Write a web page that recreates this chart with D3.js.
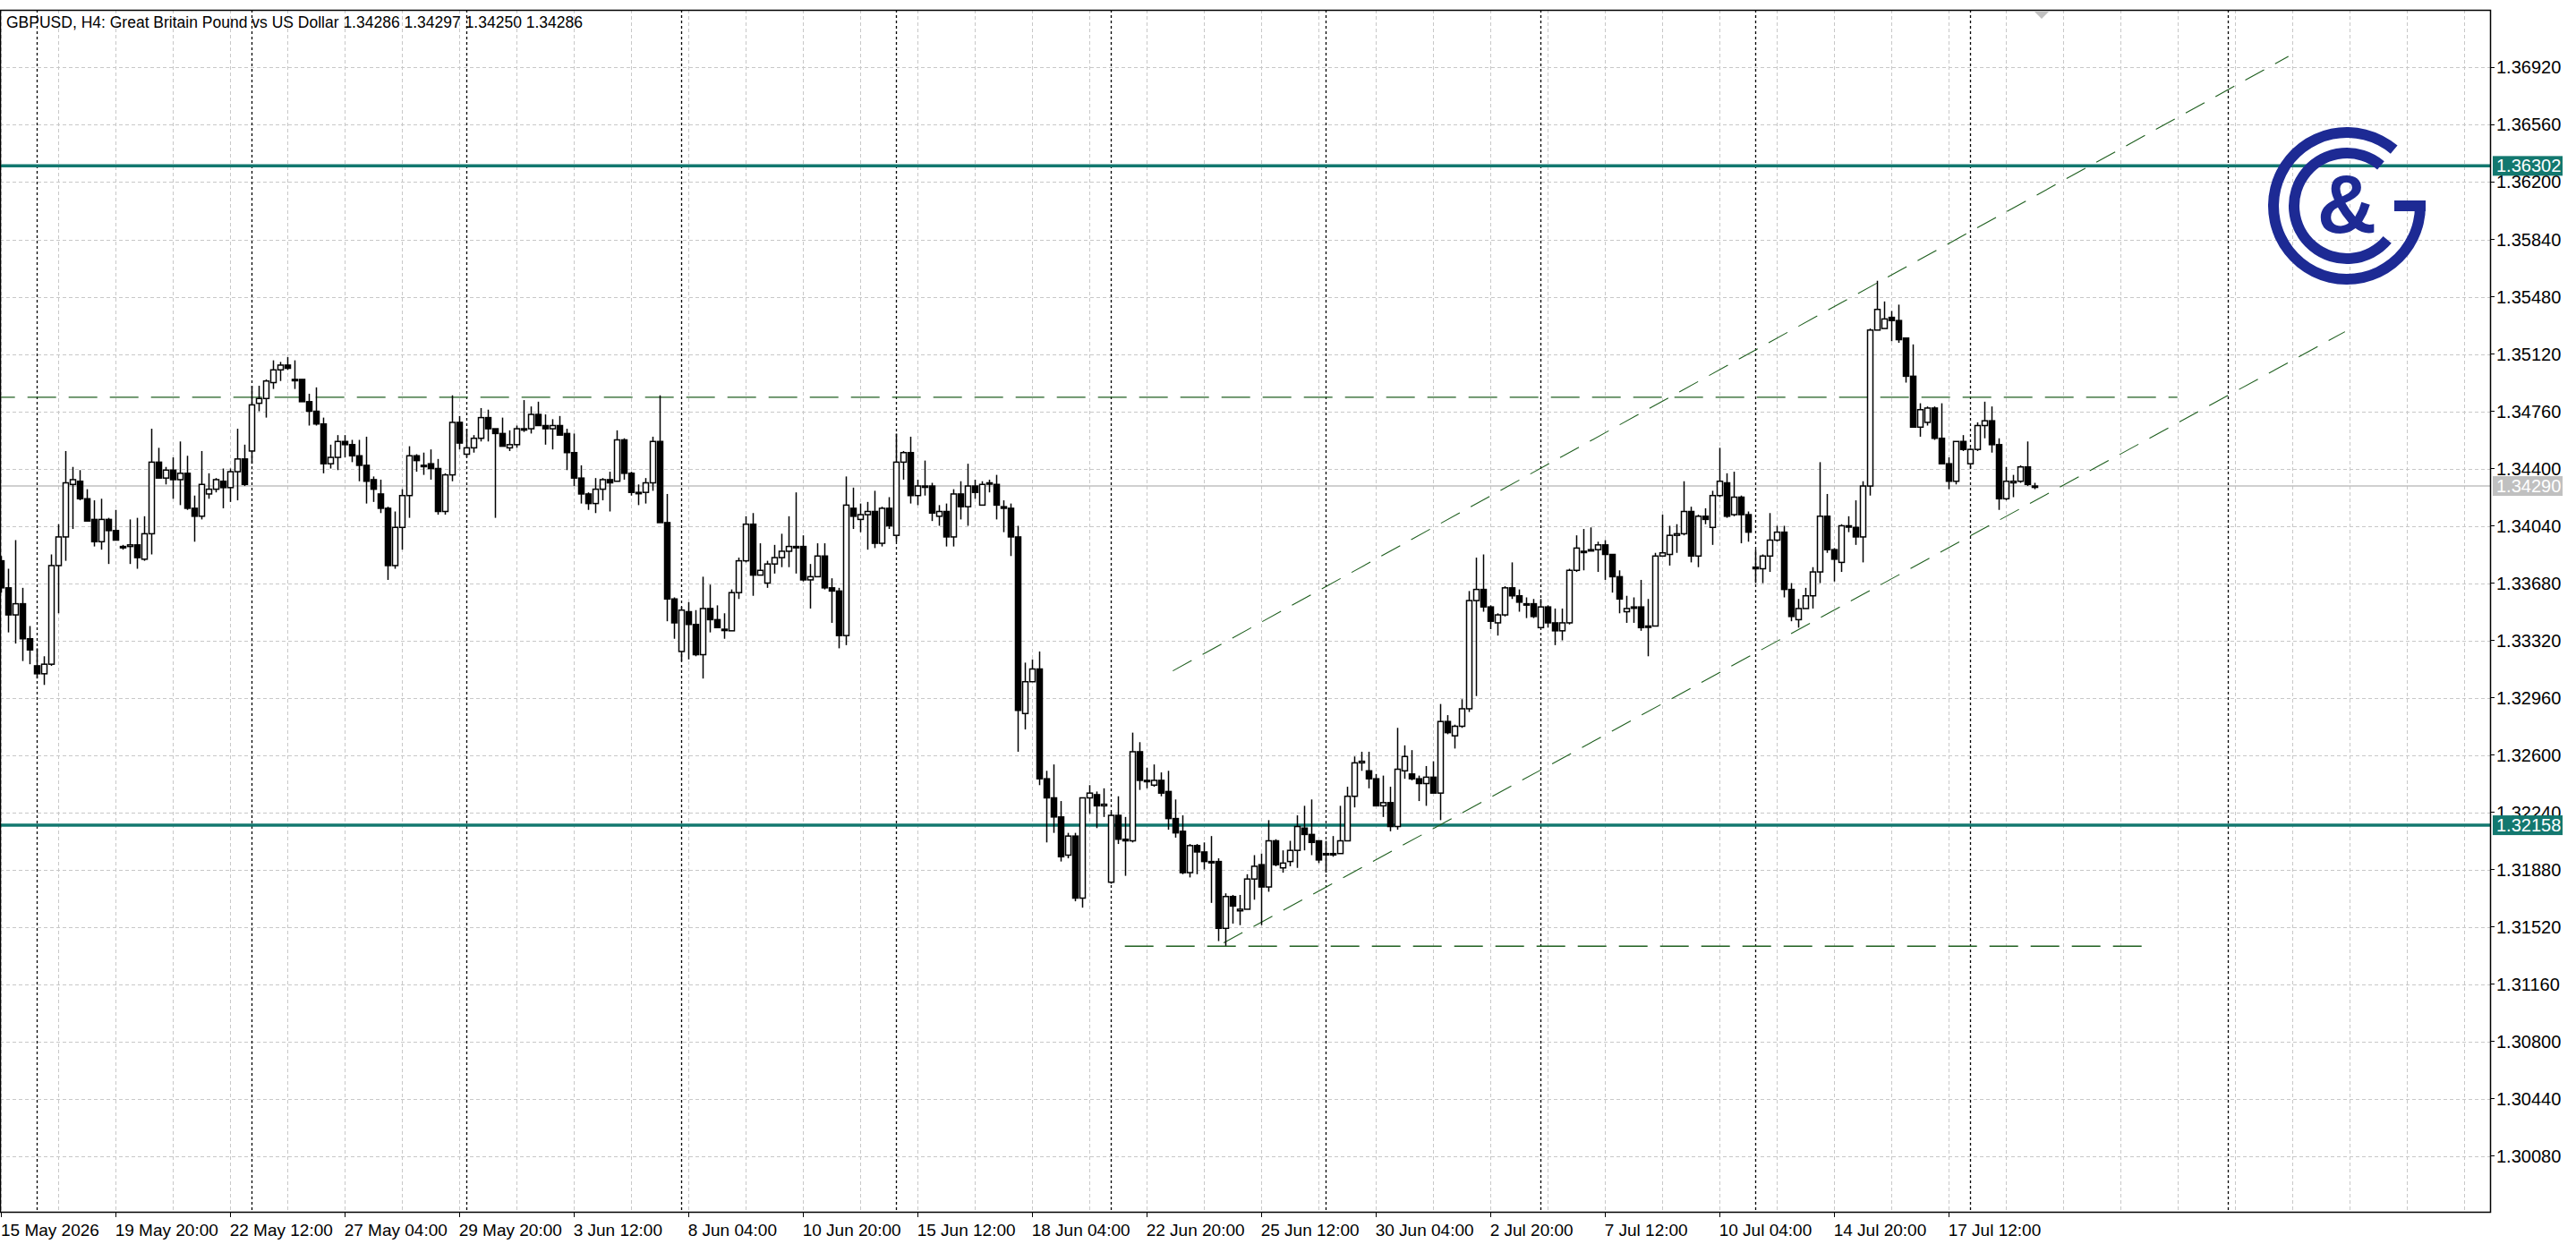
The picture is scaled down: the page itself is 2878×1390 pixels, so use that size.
<!DOCTYPE html>
<html>
<head>
<meta charset="utf-8">
<script src="https://cdn.jsdelivr.net/npm/d3@7"></script>
<style>
  body { margin: 0; background: #fff; }
  svg text { font-family: "Liberation Sans", Arial, sans-serif; }
</style>
</head>
<body>
<svg id="chart" width="2878" height="1390"></svg>
<script>
// prices are pips above 1.30000 (so 430 -> 1.34300)
var opens = [390,382,365,348,355,333,316,311,317,379,397,430,432,421,408,394,408,401,391,391,392,383,399,444,434,439,433,437,415,410,
  424,427,432,428,438,446,451,481,484,494,502,505,496,496,482,476,468,443,447,457,455,448,442,433,424,415,379,403,423,448,
  442,443,440,413,436,469,449,453,459,472,465,462,453,455,465,465,474,467,465,467,462,450,434,424,418,427,433,432,458,437,
  425,425,431,457,406,358,325,350,342,323,352,345,339,338,362,382,405,373,368,380,384,388,391,391,370,372,385,365,363,335,
  415,408,411,413,393,415,398,444,450,423,429,429,410,413,397,424,416,429,417,431,430,416,415,397,286,306,314,245,233,221,
  197,209,170,233,235,228,180,222,207,206,262,244,241,244,237,220,212,186,203,199,193,193,151,171,162,163,182,191,177,206,
  189,193,200,214,210,206,198,198,198,206,234,255,250,245,228,230,215,250,248,245,242,246,236,281,272,278,289,357,364,353,
  343,348,365,360,355,355,340,353,343,338,343,376,388,389,389,392,386,372,350,353,353,341,341,385,386,398,399,413,385,410,
  403,423,431,411,422,411,378,377,385,395,400,364,345,352,360,375,410,389,381,404,403,397,429,527,528,535,533,522,498,466,
  469,478,459,443,432,457,443,452,467,470,455,421,431,432,441,429];
var highs = [395,385,377,395,365,341,327,322,386,405,451,441,439,427,420,421,409,414,392,408,409,410,465,453,441,447,457,448,423,451,
  437,434,440,440,465,455,492,492,496,508,507,510,508,496,487,491,472,455,461,461,458,458,460,435,433,416,413,427,454,449,
  450,452,446,437,486,473,465,461,478,477,465,472,464,467,483,479,482,474,471,473,465,462,442,425,434,434,438,464,459,438,
  430,434,460,486,424,359,353,356,351,372,367,354,349,364,384,410,412,393,382,392,399,410,425,398,380,393,393,371,365,435,
  428,418,419,426,416,422,462,451,460,433,445,431,417,418,427,432,443,433,432,433,436,420,418,404,318,320,325,250,254,231,
  211,211,233,241,237,239,224,234,221,274,268,252,254,249,250,232,222,204,204,205,209,195,173,172,172,185,197,198,219,207,
  200,206,222,228,232,206,206,209,228,240,259,262,262,248,247,240,277,266,263,247,253,256,292,285,279,295,363,384,386,354,
  349,366,381,364,359,358,358,354,352,352,377,398,402,403,394,395,386,376,360,359,370,358,387,411,404,405,432,416,411,415,
  426,453,437,438,423,413,389,386,412,404,404,368,358,365,378,444,424,390,405,410,420,432,528,558,545,539,543,522,518,481,
  479,479,481,447,457,461,453,469,482,479,459,441,436,442,457,431];
var lows = [375,362,337,330,319,317,308,304,316,349,382,402,420,407,391,389,380,395,389,380,377,382,386,434,430,421,417,414,394,408,
  421,425,415,419,420,429,443,476,472,490,495,502,490,482,467,467,437,440,439,447,444,432,418,419,412,370,377,389,409,438,
  436,433,411,411,432,452,447,450,457,457,409,454,451,453,463,462,467,455,452,461,439,429,418,414,412,420,413,432,433,423,
  417,418,426,406,344,333,319,320,322,308,337,340,333,338,358,381,360,373,365,374,378,378,374,369,352,372,364,343,327,329,
  402,400,389,390,391,402,394,433,418,417,423,407,404,391,391,408,404,421,417,425,408,400,385,262,276,306,241,205,211,193,
  195,168,164,223,214,221,179,204,184,205,238,239,240,234,213,208,185,183,185,188,167,143,140,154,153,163,169,153,174,190,
  186,190,189,200,197,192,186,196,198,206,227,250,239,228,221,212,213,245,244,231,228,236,219,273,264,277,287,297,350,339,
  335,347,358,350,346,346,340,340,329,332,342,375,376,388,375,370,362,349,343,343,338,322,341,385,379,387,398,381,378,405,
  392,422,409,410,393,394,368,368,375,394,359,344,340,352,352,368,387,369,375,400,392,381,423,527,528,520,519,494,466,460,
  467,458,443,427,430,451,440,451,459,450,414,420,422,431,429,427];
var closes = [382,365,348,355,333,326,311,317,379,397,431,433,421,407,394,408,401,395,391,392,384,399,444,434,439,433,437,415,410,430,
  427,433,428,438,446,430,480,484,495,502,505,503,496,482,476,468,443,447,457,455,448,442,432,427,415,379,403,423,448,445,
  442,440,413,436,469,456,453,459,472,465,462,454,455,465,465,474,467,465,467,461,450,434,424,418,427,433,431,458,437,425,
  425,431,457,406,358,343,351,342,323,352,345,340,339,362,382,405,373,376,380,384,388,391,391,370,372,385,365,363,335,417,
  410,411,413,393,415,404,444,450,423,429,429,412,413,397,424,416,429,425,430,431,417,415,397,288,306,314,245,233,221,196,
  209,170,233,236,228,229,222,207,206,262,244,244,244,236,220,211,186,203,199,193,193,151,171,165,163,182,190,177,206,191,
  192,200,215,210,205,194,198,198,206,234,255,256,245,228,230,215,251,259,245,242,246,236,281,274,278,289,357,364,353,344,
  348,365,360,356,355,347,353,343,338,343,376,390,388,389,392,386,372,358,352,353,340,341,385,387,398,399,413,385,410,408,
  423,432,410,422,411,400,377,385,395,400,364,347,352,360,375,410,389,383,404,404,397,429,527,540,534,533,521,498,466,477,
  478,459,443,432,457,452,452,467,470,455,421,432,432,441,430,429];

var xLabels = ['15 May 2026','19 May 20:00','22 May 12:00','27 May 04:00','29 May 20:00','3 Jun 12:00','8 Jun 04:00','10 Jun 20:00',
  '15 Jun 12:00','18 Jun 04:00','22 Jun 20:00','25 Jun 12:00','30 Jun 04:00','2 Jul 20:00','7 Jul 12:00','10 Jul 04:00','14 Jul 20:00','17 Jul 12:00'];
var yTicks = [1.30080,1.30440,1.30800,1.31160,1.31520,1.31880,1.32240,1.32600,1.32960,1.33320,1.33680,1.34040,1.34400,1.34760,1.35120,1.35480,1.35840,1.36200,1.36560,1.36920];
var weekSeparators = [6,36,66,96,126,156,186,216,246,276,312];
var levels = [1.36302, 1.32158];
var currentPrice = 1.34290;
var titleText = 'GBPUSD, H4:  Great Britain Pound vs US Dollar  1.34286 1.34297 1.34250 1.34286';
// trend drawings: [bar index, price]
var resistanceLine = [[-1, 1.34848], [305, 1.34848]];
var supportLine = [[158, 1.31398], [301, 1.31398]];
var channelUpper = [[164.7, 1.33128], [320.5, 1.36990]];
var channelLower = [[171.8, 1.31419], [328.4, 1.35260]];

var svg = d3.select('#chart');
var plotLeft = 0, plotRight = 2782, plotTop = 11, plotBottom = 1354;

var x = d3.scaleLinear().domain([0, 350]).range([-7.3, -7.3 + 350 * 8]);
var y = d3.scaleLinear().domain([1.297285, 1.372828]).range([plotBottom, plotTop]);
var px = function(p) { return 1.3 + p / 10000; };

svg.append('defs').append('clipPath').attr('id', 'plot')
  .append('rect').attr('x', plotLeft).attr('y', plotTop)
  .attr('width', plotRight - plotLeft).attr('height', plotBottom - plotTop);

var g = svg.append('g').attr('clip-path', 'url(#plot)');

// grid
g.selectAll('.hgrid').data(yTicks).enter().append('line')
  .attr('x1', plotLeft).attr('x2', plotRight)
  .attr('y1', function(d) { return Math.round(y(d)) + 0.5; })
  .attr('y2', function(d) { return Math.round(y(d)) + 0.5; })
  .attr('stroke', '#c8c8c8').attr('stroke-dasharray', '4,3');
var vgrid = d3.range(1, 350, 8);
g.selectAll('.vgrid').data(vgrid).enter().append('line')
  .attr('x1', function(d) { return Math.round(x(d)) + 0.5; })
  .attr('x2', function(d) { return Math.round(x(d)) + 0.5; })
  .attr('y1', plotTop).attr('y2', plotBottom)
  .attr('stroke', '#c8c8c8').attr('stroke-dasharray', '4,3');
g.selectAll('.sep').data(weekSeparators).enter().append('line')
  .attr('x1', function(d) { return Math.round(x(d)) + 0.5; })
  .attr('x2', function(d) { return Math.round(x(d)) + 0.5; })
  .attr('y1', plotTop).attr('y2', plotBottom)
  .attr('stroke', '#000').attr('stroke-width', 1.3).attr('stroke-dasharray', '3,3');

// horizontal levels
g.selectAll('.lvl').data(levels).enter().append('line')
  .attr('x1', plotLeft).attr('x2', plotRight)
  .attr('y1', function(d) { return y(d); }).attr('y2', function(d) { return y(d); })
  .attr('stroke', '#13786f').attr('stroke-width', 3.5);
g.append('line').attr('x1', plotLeft).attr('x2', plotRight)
  .attr('y1', y(currentPrice)).attr('y2', y(currentPrice))
  .attr('stroke', '#c0c0c0').attr('stroke-width', 1.5);

// drawings
var line = d3.line().x(function(d) { return x(d[0]); }).y(function(d) { return y(d[1]); });
[[resistanceLine, '32,14', 1.4], [supportLine, '32,14', 1.4], [channelUpper, '24,14', 1.1], [channelLower, '24,14', 1.1]]
  .forEach(function(t) {
    g.append('path').attr('d', line(t[0])).attr('fill', 'none')
      .attr('stroke', '#1f5f1f').attr('stroke-width', t[2]).attr('stroke-dasharray', t[1]);
  });

// candles
var bars = d3.range(opens.length);
var c = g.selectAll('.candle').data(bars).enter().append('g');
c.append('line')
  .attr('x1', function(i) { return Math.round(x(i)) + 0.5; })
  .attr('x2', function(i) { return Math.round(x(i)) + 0.5; })
  .attr('y1', function(i) { return y(px(highs[i])); })
  .attr('y2', function(i) { return y(px(lows[i])); })
  .attr('stroke', '#000').attr('stroke-width', 1.5);
c.append('rect')
  .attr('x', function(i) { return Math.round(x(i)) - 2.5; })
  .attr('width', 6)
  .attr('y', function(i) { return y(px(Math.max(opens[i], closes[i]))); })
  .attr('height', function(i) { return Math.max(1.5, Math.abs(y(px(opens[i])) - y(px(closes[i])))); })
  .attr('fill', function(i) { return closes[i] > opens[i] ? '#fff' : '#000'; })
  .attr('stroke', '#000').attr('stroke-width', 1.5);

// logo
var logo = svg.append('g').attr('transform', 'translate(2622,230)').attr('fill', '#1d2a94');
var deg = Math.PI / 180;
logo.append('path').attr('d', d3.arc()({ innerRadius: 76, outerRadius: 88, startAngle: 90 * deg, endAngle: 400 * deg }));
logo.append('rect').attr('x', 53).attr('y', -6).attr('width', 35).attr('height', 12);
logo.append('path').attr('d', d3.arc()({ innerRadius: 53, outerRadius: 65, startAngle: 130 * deg, endAngle: 400 * deg }));
logo.append('text').attr('x', 0).attr('y', 30).attr('text-anchor', 'middle')
  .attr('font-size', 92).attr('font-weight', 'bold').text('&');

// frame & axes
svg.append('rect').attr('x', plotLeft + 0.5).attr('y', plotTop + 0.5)
  .attr('width', plotRight - plotLeft).attr('height', plotBottom - plotTop)
  .attr('fill', 'none').attr('stroke', '#000').attr('stroke-width', 1.5);

var yAxis = svg.append('g');
yAxis.selectAll('line').data(yTicks).enter().append('line')
  .attr('x1', plotRight).attr('x2', plotRight + 5)
  .attr('y1', function(d) { return y(d); }).attr('y2', function(d) { return y(d); })
  .attr('stroke', '#000');
yAxis.selectAll('text').data(yTicks).enter().append('text')
  .attr('x', plotRight + 7).attr('y', function(d) { return y(d) + 7; })
  .attr('font-size', 20).attr('fill', '#000').text(function(d) { return d.toFixed(5); });

var tags = levels.map(function(v) { return [v, '#13786f']; }).concat([[currentPrice, '#c0c0c0']]);
tags.forEach(function(t) {
  svg.append('rect').attr('x', plotRight + 3).attr('y', y(t[0]) - 11).attr('width', 78).attr('height', 22).attr('fill', t[1]);
  svg.append('text').attr('x', plotRight + 7).attr('y', y(t[0]) + 7).attr('font-size', 20)
    .attr('fill', '#fff').text(t[0].toFixed(5));
});

var xAxis = svg.append('g');
xAxis.selectAll('line').data(xLabels).enter().append('line')
  .attr('x1', function(d, k) { return Math.round(x(1 + 16 * k)) + 0.5; })
  .attr('x2', function(d, k) { return Math.round(x(1 + 16 * k)) + 0.5; })
  .attr('y1', plotBottom).attr('y2', plotBottom + 6).attr('stroke', '#000');
xAxis.selectAll('text').data(xLabels).enter().append('text')
  .attr('x', function(d, k) { return Math.max(1, x(1 + 16 * k)); })
  .attr('y', plotBottom + 27).attr('font-size', 19).text(function(d) { return d; });

svg.append('text').attr('x', 7).attr('y', 31).attr('font-size', 17.5).text(titleText);
svg.append('path').attr('d', 'M2272,12 L2290,12 L2281,21 Z').attr('fill', '#c0c0c0');
</script>
</body>
</html>
